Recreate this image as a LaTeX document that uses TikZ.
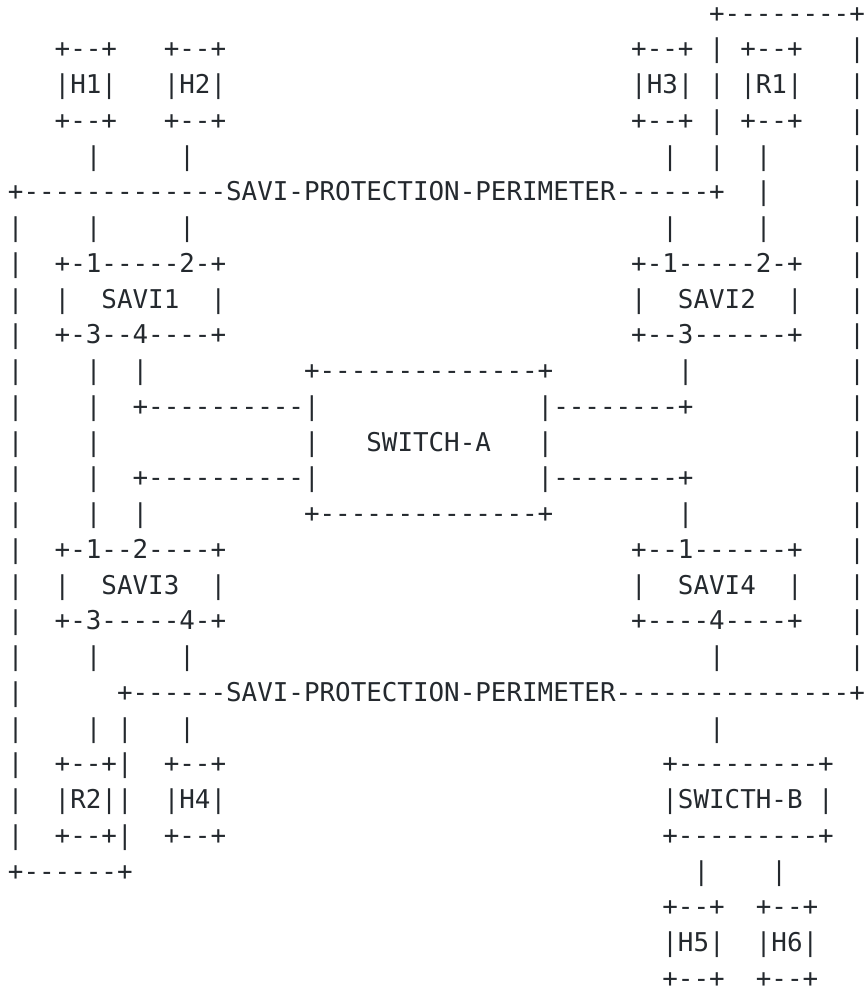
\documentclass[tikz,border=0pt]{standalone}
\usepackage{fontspec}
\setmonofont{DejaVu Sans Mono}
\definecolor{ink}{RGB}{36,41,46}
\tikzset{ascii/.style={anchor=base west, inner sep=0pt, outer sep=0pt, text=ink,
  font=\ttfamily\fontsize{25.88}{35.7}\selectfont}}
\newcommand\A[4]{\node[ascii] (#1) at (#2,#3) {#4};}
\begin{document}
\begin{tikzpicture}[x=15.58pt,y=-35.74pt]
\path[use as bounding box] (-8.0pt,-13.5pt) rectangle (857.0pt,-1001.5pt);
% row 1
\A{r1a}{45}{1}{+--------+}
% row 2
\A{r2a}{3}{2}{+--+}\A{r2b}{10}{2}{+--+}\A{r2c}{40}{2}{+--+}\A{r2d}{45}{2}{|}\A{r2e}{47}{2}{+--+}\A{r2f}{54}{2}{|}
% row 3
\A{h1}{3}{3}{|H1|}\A{h2}{10}{3}{|H2|}\A{h3}{40}{3}{|H3|}\A{r3d}{45}{3}{|}\A{r1}{47}{3}{|R1|}\A{r3f}{54}{3}{|}
% row 4
\A{r4a}{3}{4}{+--+}\A{r4b}{10}{4}{+--+}\A{r4c}{40}{4}{+--+}\A{r4d}{45}{4}{|}\A{r4e}{47}{4}{+--+}\A{r4f}{54}{4}{|}
% row 5
\A{r5a}{5}{5}{|}\A{r5b}{11}{5}{|}\A{r5c}{42}{5}{|}\A{r5d}{45}{5}{|}\A{r5e}{48}{5}{|}\A{r5f}{54}{5}{|}
% row 6
\A{per1}{0}{6}{+-------------SAVI-PROTECTION-PERIMETER------+}\A{r6b}{48}{6}{|}\A{r6c}{54}{6}{|}
% row 7
\A{r7a}{0}{7}{|}\A{r7b}{5}{7}{|}\A{r7c}{11}{7}{|}\A{r7d}{42}{7}{|}\A{r7e}{48}{7}{|}\A{r7f}{54}{7}{|}
% row 8
\A{r8a}{0}{8}{|}\A{r8b}{3}{8}{+-1-----2-+}\A{r8c}{40}{8}{+-1-----2-+}\A{r8d}{54}{8}{|}
% row 9
\A{r9a}{0}{9}{|}\A{savi1}{3}{9}{|\ \ SAVI1\ \ |}\A{savi2}{40}{9}{|\ \ SAVI2\ \ |}\A{r9d}{54}{9}{|}
% row 10
\A{r10a}{0}{10}{|}\A{r10b}{3}{10}{+-3--4----+}\A{r10c}{40}{10}{+--3------+}\A{r10d}{54}{10}{|}
% row 11
\A{r11a}{0}{11}{|}\A{r11b}{5}{11}{|}\A{r11c}{8}{11}{|}\A{r11d}{19}{11}{+--------------+}\A{r11e}{43}{11}{|}\A{r11f}{54}{11}{|}
% row 12
\A{r12a}{0}{12}{|}\A{r12b}{5}{12}{|}\A{r12c}{8}{12}{+----------|}\A{r12d}{34}{12}{|--------+}\A{r12e}{54}{12}{|}
% row 13
\A{r13a}{0}{13}{|}\A{r13b}{5}{13}{|}\A{r13c}{19}{13}{|}\A{swa}{23}{13}{SWITCH-A}\A{r13d}{34}{13}{|}\A{r13e}{54}{13}{|}
% row 14
\A{r14a}{0}{14}{|}\A{r14b}{5}{14}{|}\A{r14c}{8}{14}{+----------|}\A{r14d}{34}{14}{|--------+}\A{r14e}{54}{14}{|}
% row 15
\A{r15a}{0}{15}{|}\A{r15b}{5}{15}{|}\A{r15c}{8}{15}{|}\A{r15d}{19}{15}{+--------------+}\A{r15e}{43}{15}{|}\A{r15f}{54}{15}{|}
% row 16
\A{r16a}{0}{16}{|}\A{r16b}{3}{16}{+-1--2----+}\A{r16c}{40}{16}{+--1------+}\A{r16d}{54}{16}{|}
% row 17
\A{r17a}{0}{17}{|}\A{savi3}{3}{17}{|\ \ SAVI3\ \ |}\A{savi4}{40}{17}{|\ \ SAVI4\ \ |}\A{r17d}{54}{17}{|}
% row 18
\A{r18a}{0}{18}{|}\A{r18b}{3}{18}{+-3-----4-+}\A{r18c}{40}{18}{+----4----+}\A{r18d}{54}{18}{|}
% row 19
\A{r19a}{0}{19}{|}\A{r19b}{5}{19}{|}\A{r19c}{11}{19}{|}\A{r19d}{45}{19}{|}\A{r19e}{54}{19}{|}
% row 20
\A{r20a}{0}{20}{|}\A{per2}{7}{20}{+------SAVI-PROTECTION-PERIMETER---------------+}
% row 21
\A{r21a}{0}{21}{|}\A{r21b}{5}{21}{|}\A{r21c}{7}{21}{|}\A{r21d}{11}{21}{|}\A{r21e}{45}{21}{|}
% row 22
\A{r22a}{0}{22}{|}\A{r22b}{3}{22}{+--+|}\A{r22c}{10}{22}{+--+}\A{r22d}{42}{22}{+---------+}
% row 23
\A{r23a}{0}{23}{|}\A{r2}{3}{23}{|R2||}\A{h4}{10}{23}{|H4|}\A{swb}{42}{23}{|SWICTH-B\ |}
% row 24
\A{r24a}{0}{24}{|}\A{r24b}{3}{24}{+--+|}\A{r24c}{10}{24}{+--+}\A{r24d}{42}{24}{+---------+}
% row 25
\A{r25a}{0}{25}{+------+}\A{r25b}{44}{25}{|}\A{r25c}{49}{25}{|}
% row 26
\A{r26a}{42}{26}{+--+}\A{r26b}{48}{26}{+--+}
% row 27
\A{h5}{42}{27}{|H5|}\A{h6}{48}{27}{|H6|}
% row 28
\A{r28a}{42}{28}{+--+}\A{r28b}{48}{28}{+--+}
\end{tikzpicture}
\end{document}
